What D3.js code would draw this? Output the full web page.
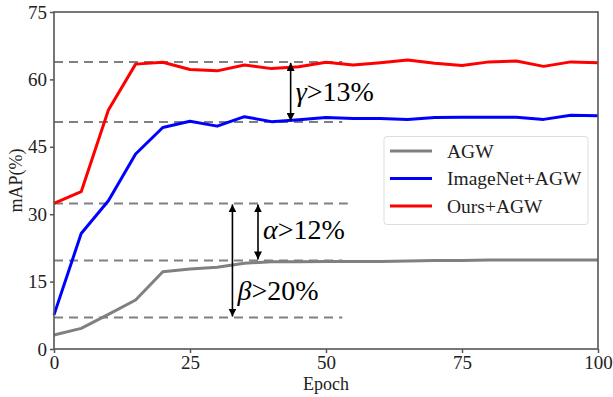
<!DOCTYPE html>
<html><head><meta charset="utf-8">
<script src="https://cdn.jsdelivr.net/npm/d3@7"></script>
<style>
html,body{margin:0;padding:0;background:#fff;}
svg text{font-family:"Liberation Serif","Times New Roman",serif;}
</style></head>
<body>
<svg id="chart" width="613" height="397"></svg>
<script>
const epochs = [0,5,10,15,20,25,30,35,40,45,50,55,60,65,70,75,80,85,90,95,100];
const agw = [3.1,4.6,7.7,10.9,17.2,17.8,18.2,19.1,19.4,19.4,19.5,19.5,19.5,19.6,19.7,19.7,19.8,19.8,19.8,19.8,19.8];
const imagenetAgw = [7.6,25.7,33.0,43.4,49.3,50.7,49.6,51.7,50.6,51.0,51.5,51.3,51.3,51.1,51.5,51.6,51.6,51.6,51.1,52.0,51.9];
const oursAgw = [32.4,35.0,53.2,63.4,63.8,62.2,61.9,63.2,62.4,62.8,63.8,63.2,63.7,64.3,63.6,63.1,63.9,64.1,62.9,63.9,63.7];
const seriesNames = ["AGW","ImageNet+AGW","Ours+AGW"];
const seriesColors = ["#808080","#0000ff","#ff0000"];
const xTicks = [0,25,50,75,100];
const yTicks = [0,15,30,45,60,75];
// reference (dashed) levels and their x-extent in epochs
const refLevels = [63.9,50.5,32.4,19.7,7.0];
const refEnds = [53,53,54,53,53];
// annotation arrows
const arrows = [
  {x:43.5, y0:63.9, y1:50.5, g:"γ", t:">13%", ly:55.2},
  {x:37.5, y0:32.4, y1:19.7, g:"α", t:">12%", ly:24.5},
  {x:32.8, y0:32.4, y1:7.0, g:"β", t:">20%", ly:10.9}
];

const svg = d3.select("#chart");
const m = {l:54, r:15, t:12, b:48};
const W = 613, H = 397;
const x = d3.scaleLinear().domain([0,100]).range([m.l, W-m.r]);
const y = d3.scaleLinear().domain([0,75]).range([H-m.b, m.t]);

svg.append("defs").append("marker")
  .attr("id","ah").attr("viewBox","0 0 10 10").attr("refX",10).attr("refY",5)
  .attr("markerWidth",5).attr("markerHeight",5).attr("orient","auto-start-reverse")
  .append("path").attr("d","M0,0 L10,5 L0,10 z").attr("fill","#000");

svg.selectAll(".ref").data(refLevels).enter().append("line")
  .attr("x1",x(0)).attr("x2",(d,i)=>x(refEnds[i]))
  .attr("y1",d=>y(d)).attr("y2",d=>y(d))
  .attr("stroke","#808080").attr("stroke-width",2).attr("stroke-dasharray","9,6");

const line = d3.line().x((d,i)=>x(epochs[i])).y(d=>y(d));
[agw,imagenetAgw,oursAgw].forEach((s,k)=>{
  svg.append("path").datum(s).attr("d",line).attr("fill","none")
    .attr("stroke",seriesColors[k]).attr("stroke-width",3).attr("stroke-linejoin","round");
});

arrows.forEach(a=>{
  svg.append("line").attr("x1",x(a.x)).attr("x2",x(a.x))
    .attr("y1",y(a.y0)+1).attr("y2",y(a.y1)-1)
    .attr("stroke","#000").attr("stroke-width",1.6)
    .attr("marker-start","url(#ah)").attr("marker-end","url(#ah)");
  const t = svg.append("text").attr("x",x(a.x)+5).attr("y",y(a.ly))
    .attr("font-size",28).attr("fill","#000")
    .style("font-family","'Liberation Serif','DejaVu Serif',serif");
  t.append("tspan").attr("font-style","italic").text(a.g);
  t.append("tspan").text(a.t);
});

const xa = svg.append("g").attr("transform",`translate(0,${H-m.b})`)
  .call(d3.axisBottom(x).tickValues(xTicks).tickSize(4).tickPadding(3));
const ya = svg.append("g").attr("transform",`translate(${m.l},0)`)
  .call(d3.axisLeft(y).tickValues(yTicks).tickSize(4).tickPadding(3));
[xa,ya].forEach(g=>{
  g.select(".domain").remove();
  g.selectAll("line").attr("stroke","#555").attr("stroke-width",1.5);
  g.selectAll("text").attr("font-size",19).attr("fill","#222")
    .style("font-family","'Liberation Serif',serif");
});
svg.append("rect").attr("x",m.l).attr("y",m.t).attr("width",W-m.r-m.l).attr("height",H-m.b-m.t)
  .attr("fill","none").attr("stroke","#555").attr("stroke-width",1.6);

svg.append("text").attr("x",(m.l+W-m.r)/2).attr("y",390).attr("text-anchor","middle")
  .attr("font-size",18).attr("fill","#222").text("Epoch");
svg.append("text").attr("transform",`translate(22,${(m.t+H-m.b)/2}) rotate(-90)`)
  .attr("text-anchor","middle").attr("font-size",18).attr("fill","#222").text("mAP(%)");

const lg = svg.append("g");
lg.append("rect").attr("x",384).attr("y",136.5).attr("width",204).attr("height",88)
  .attr("rx",3).attr("fill","#fff").attr("fill-opacity",0.85).attr("stroke","#ddd").attr("stroke-width",1);
seriesNames.forEach((n,i)=>{
  const yy = 151 + i*27.5;
  lg.append("line").attr("x1",390).attr("x2",432).attr("y1",yy).attr("y2",yy)
    .attr("stroke",seriesColors[i]).attr("stroke-width",3);
  lg.append("text").attr("x",447).attr("y",yy+6.5).attr("font-size",19.5).attr("fill","#222").text(n);
});
</script>
</body></html>
